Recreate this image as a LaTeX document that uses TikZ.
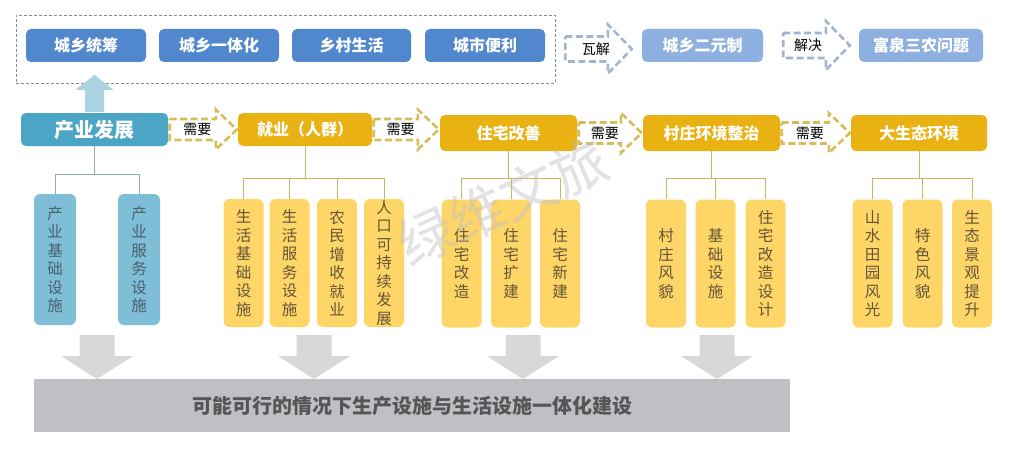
\documentclass[tikz,border=0pt]{standalone}
\usepackage{fontspec}
\setmainfont{Noto Sans CJK SC}
\usepackage{tikz}
\usetikzlibrary{calc}
\definecolor{topblue}{RGB}{80,135,205}
\definecolor{paleblue}{RGB}{142,176,224}
\definecolor{teal}{RGB}{75,165,196}
\definecolor{childblue}{RGB}{126,190,214}
\definecolor{bluetxt}{RGB}{75,95,110}
\definecolor{gold}{RGB}{233,178,18}
\definecolor{childyel}{RGB}{254,214,104}
\definecolor{yeltxt}{RGB}{100,85,55}
\definecolor{bargray}{RGB}{192,191,195}
\definecolor{bartxt}{RGB}{85,85,88}
\definecolor{arrgray}{RGB}{216,216,218}
\definecolor{upblue}{RGB}{172,211,226}
\definecolor{needgold}{RGB}{215,188,90}
\definecolor{tiegray}{RGB}{163,181,206}
\definecolor{framegray}{RGB}{125,140,155}
\definecolor{bluetree}{RGB}{150,170,182}
\definecolor{goldtree}{RGB}{205,180,95}

\begin{document}
\begin{tikzpicture}[x=1pt,y=-1pt,
 hb/.style={fill=#1,rounded corners=5pt,inner sep=0pt,text=white,font=\bfseries\fontsize{16}{18}\selectfont},
 cb/.style={fill=#1,rounded corners=6pt,inner sep=0pt,align=center,minimum width=40pt,minimum height=128pt,font=\fontsize{15.5}{18.5}\selectfont},
 tl/.style={draw=#1,line width=.8pt},
 need/.style={draw=needgold,fill=white,line width=2.6pt,dash pattern=on 7pt off 3.5pt},
 gone/.style={draw=tiegray,fill=white,line width=2.6pt,dash pattern=on 7pt off 3.5pt},
 lbl/.style={font=\fontsize{14}{16}\selectfont,inner sep=0pt},
 wm/.style={rotate=24,text=black!25,opacity=.45,font=\fontsize{56}{60}\selectfont}]
 \useasboundingbox[fill=white] (0,0) rectangle (1010,452);
 % top row
 \node[draw=framegray,dash pattern=on 3pt off 2pt,line width=.7pt,minimum width=539pt,minimum height=68pt] (top) at (285.5,49) {};
 \node[hb=topblue,minimum width=120pt,minimum height=33pt] (t1) at (86,45.5) {城乡统筹};
 \node[hb=topblue,minimum width=120pt,minimum height=33pt] (t2) at (219,45.5) {城乡一体化};
 \node[hb=topblue,minimum width=119pt,minimum height=33pt] (t3) at (351.5,45.5) {乡村生活};
 \node[hb=topblue,minimum width=120pt,minimum height=33pt] (t4) at (485,45.5) {城市便利};
 \node[hb=paleblue,minimum width=121pt,minimum height=33pt] (t5) at (702.5,45.5) {城乡二元制};
 \node[hb=paleblue,minimum width=124pt,minimum height=33pt] (t6) at (921,45.5) {富泉三农问题};
 \foreach \s/\t/\a/\b/\l [count=\i] in {top/t5/10/10/瓦解,t5/t6/20/9/解决} {
  \coordinate (tip) at (\s.east -| \t.west);
  \draw[gone] ($(\s.east)+(\a,-12.5)$) -- ($(tip)+(-\b-24,-12.5)$) -- ($(tip)+(-\b-24,-24.5)$) -- ($(tip)+(-\b,0)$)
   -- ($(tip)+(-\b-24,24.5)$) -- ($(tip)+(-\b-24,12.5)$) -- ($(\s.east)+(\a,12.5)$) -- cycle;
  \node[lbl] (g\i) at ($(\s.east)!.47!(tip)$) {\l};
 }
 % main row
 \node[hb=teal,minimum width=147pt,minimum height=33pt,font=\bfseries\fontsize{20}{22}\selectfont] (cy) at (94.5,129.5) {产业发展};
 \node[hb=gold,minimum width=134pt,minimum height=33pt] (jy) at (305,129.5) {就业（人群）};
 \node[hb=gold,minimum width=137pt,minimum height=36pt] (zz) at (508.5,133) {住宅改善};
 \node[hb=gold,minimum width=137pt,minimum height=36pt] (cz) at (711.5,133) {村庄环境整治};
 \node[hb=gold,minimum width=136pt,minimum height=36pt] (ds) at (919,133) {大生态环境};
 \fill[upblue] ($(cy.north)+(-9.5,-1)$) -- ++(0,-22) -- ++(-9.5,0) -- ($(cy.north)+(0,-38)$) -- ++(19,15) -- ++(-9.5,0) -- ++(0,22) -- cycle;
 \foreach \s/\t [count=\i] in {cy/jy,jy/zz,zz/cz,cz/ds} {
  \coordinate (tip) at (\s.east -| \t.west);
  \draw[need] ($(\s.east)+(1.5,-10.5)$) -- ($(tip)+(-22,-10.5)$) -- ($(tip)+(-22,-20)$) -- ($(tip)+(-1,0)$)
   -- ($(tip)+(-22,20)$) -- ($(tip)+(-22,10.5)$) -- ($(\s.east)+(1.5,10.5)$) -- cycle;
  \node[lbl] (n\i) at ($(\s.east)!.42!(tip)$) {需要};
 }
 % children
 \node[cb=childblue,minimum width=42pt,minimum height=131pt,text=bluetxt] (cy1) at (55,259.5) {产\\业\\基\\础\\设\\施};
 \node[cb=childblue,minimum width=42pt,minimum height=131pt,text=bluetxt] (cy2) at (139,259.5) {产\\业\\服\\务\\设\\施};
 \begin{scope}[text=yeltxt]
 \node[cb=childyel] (jy1) at (243.5,263) {生\\活\\基\\础\\设\\施};
 \node[cb=childyel] (jy2) at (289.5,263) {生\\活\\服\\务\\设\\施};
 \node[cb=childyel] (jy3) at (337,263) {农\\民\\增\\收\\就\\业};
 \node[cb=childyel] (jy4) at (384,263) {人\\口\\可\\持\\续\\发\\展};
 \node[cb=childyel] (zz1) at (461.5,263.5) {住\\宅\\改\\造};
 \node[cb=childyel] (zz2) at (511,263.5) {住\\宅\\扩\\建};
 \node[cb=childyel] (zz3) at (560,263.5) {住\\宅\\新\\建};
 \node[cb=childyel] (cz1) at (666,263.5) {村\\庄\\风\\貌};
 \node[cb=childyel] (cz2) at (715.5,263.5) {基\\础\\设\\施};
 \node[cb=childyel] (cz3) at (765.5,263.5) {住\\宅\\改\\造\\设\\计};
 \node[cb=childyel] (ds1) at (872.5,263.5) {山\\水\\田\\园\\风\\光};
 \node[cb=childyel] (ds2) at (922.5,263.5) {特\\色\\风\\貌};
 \node[cb=childyel] (ds3) at (972,263.5) {生\\态\\景\\观\\提\\升};
 \end{scope}
 \foreach \c in {cy1,cy2} \draw[tl=bluetree] (cy.south) -- ++(0,28.5) -| (\c.north);
 \foreach \c in {jy1,jy2,jy3,jy4} \draw[tl=goldtree] (jy.south) -- ++(0,32) -| (\c.north);
 \foreach \p/\c in {zz/zz1,zz/zz2,zz/zz3,cz/cz1,cz/cz2,cz/cz3,ds/ds1,ds/ds2,ds/ds3}
  \draw[tl=goldtree] (\p.south) -- ++(0,27) -| (\c.north);
 % bottom
 \foreach \x in {97,314,523,717}
  \fill[arrgray] (\x,379) -- ++(-36,-23) -- ++(18.5,0) -- ++(0,-21) -- ++(35,0) -- ++(0,21) -- ++(18.5,0) -- cycle;
 \node[fill=bargray,minimum width=756pt,minimum height=53pt,inner sep=0pt,text=bartxt,font=\bfseries\fontsize{20}{22}\selectfont] (bar) at (412,405.5) {可能可行的情况下生产设施与生活设施一体化建设};
 \node[wm] (mark) at (503,202) {绿维文旅};
\end{tikzpicture}
\end{document}
